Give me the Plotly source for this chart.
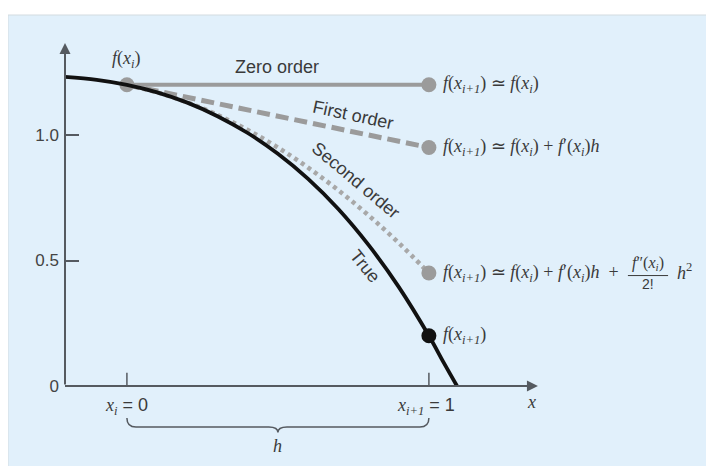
import plotly.graph_objects as go

# true function
x_true = [-0.205, -0.1, 0.0, 0.1, 0.2, 0.3, 0.4, 0.5, 0.6, 0.7, 0.8, 0.9, 1.0, 1.05, 1.093]
y_true = [1.232, 1.220, 1.200, 1.170, 1.129, 1.075, 1.008, 0.925, 0.825, 0.705, 0.562, 0.395, 0.200, 0.091, 0.0]

# zero, first, second order predictions
x_zero = [0.0, 1.0]
y_zero = [1.2, 1.2]
x_first = [0.0, 1.0]
y_first = [1.2, 0.95]
x_second = [0.0, 0.1, 0.2, 0.3, 0.4, 0.5, 0.6, 0.7, 0.8, 0.9, 1.0]
y_second = [1.2, 1.17, 1.13, 1.08, 1.02, 0.95, 0.87, 0.78, 0.68, 0.57, 0.45]

y_ticks = [0, 0.5, 1.0]
y_ticktext = ["0", "0.5", "1.0"]

GRAY = "#9b9b9b"
AXIS = "#555a60"
TXT = "#3a3a3a"
SERIF = "Liberation Serif"
SANS = "Liberation Sans"

X0, X1 = -0.205, 1.8977
Y0, Y1 = -0.2948, 1.3785

fig = go.Figure()

fig.add_trace(go.Scatter(x=x_zero, y=y_zero, mode="lines",
                         line=dict(color=GRAY, width=4)))
fig.add_trace(go.Scatter(x=x_first, y=y_first, mode="lines",
                         line=dict(color=GRAY, width=5, dash="13px,6px")))
fig.add_trace(go.Scatter(x=x_second, y=y_second, mode="lines",
                         line=dict(color="#a8a8a8", width=4.5, dash="4px,4px", shape="spline")))
# gray end dots
fig.add_trace(go.Scatter(x=[x_zero[0], x_zero[-1], x_first[-1], x_second[-1]],
                         y=[y_zero[0], y_zero[-1], y_first[-1], y_second[-1]],
                         mode="markers", marker=dict(color=GRAY, size=15)))
fig.add_trace(go.Scatter(x=x_true, y=y_true, mode="lines",
                         line=dict(color="#111111", width=3.8, shape="spline")))
fig.add_trace(go.Scatter(x=[x_true[12]], y=[y_true[12]], mode="markers",
                         marker=dict(color="#111111", size=15)))

# light blue panel
fig.add_shape(type="rect", xref="paper", yref="paper",
              x0=-0.0898, x1=1.03, y0=-0.03, y1=1.0595,
              fillcolor="#e1f0fb", line=dict(color="#d3dbe0", width=1), layer="below")

# x ticks and brace
for xv in [0, 1]:
    fig.add_shape(type="line", x0=xv, x1=xv, y0=0, y1=0.053,
                  line=dict(color=AXIS, width=1.5))
fig.add_shape(type="path",
              path="M 0,-0.127 Q 0,-0.163 0.03,-0.163 L 0.47,-0.163 Q 0.5,-0.163 0.5,-0.185 "
                   "Q 0.5,-0.163 0.53,-0.163 L 0.97,-0.163 Q 1,-0.163 1,-0.127",
              line=dict(color=AXIS, width=1.5))

# axes with arrows
fig.add_annotation(x=X0, y=1.367, ax=X0, ay=0, axref="x", ayref="y", text="",
                   showarrow=True, arrowhead=2, arrowsize=1.1, arrowwidth=2, arrowcolor=AXIS)
fig.add_annotation(x=1.361, y=0, ax=X0, ay=0, axref="x", ayref="y", text="",
                   showarrow=True, arrowhead=2, arrowsize=1.1, arrowwidth=2, arrowcolor=AXIS)


def ital(s, size=18, **kw):
    fig.add_annotation(text=s, showarrow=False, font=dict(family=SERIF, size=size, color=TXT), **kw)


def sans(s, size=18, **kw):
    fig.add_annotation(text=s, showarrow=False, font=dict(family=SANS, size=size, color=TXT), **kw)


ital("<i>f</i>(<i>x</i>)", x=-0.2745, y=1.339)
ital("<i>f</i>(<i>x<sub>i</sub></i>)", x=0.0, y=1.300)
sans("Zero order", x=0.497, y=1.272)
sans("First order", x=0.749, y=1.078, textangle=12)
sans("Second order", x=0.757, y=0.821, textangle=40)
sans("True", x=0.788, y=0.478, textangle=51)

lx = 1.04
ital("<i>f</i>(<i>x<sub>i+1</sub></i>) ≃ <i>f</i>(<i>x<sub>i</sub></i>)",
     x=lx, y=1.2, xanchor="left")
ital("<i>f</i>(<i>x<sub>i+1</sub></i>) ≃ <i>f</i>(<i>x<sub>i</sub></i>) + <i>f</i>′(<i>x<sub>i</sub></i>)<i>h</i>",
     x=lx, y=0.95, xanchor="left")
ital("<i>f</i>(<i>x<sub>i+1</sub></i>) ≃ <i>f</i>(<i>x<sub>i</sub></i>) + <i>f</i>′(<i>x<sub>i</sub></i>)<i>h</i>  +",
     x=lx, y=0.45, xanchor="left")
ital("<i>f</i>″(<i>x<sub>i</sub></i>)", size=16, x=1.725, y=0.49)
fig.add_shape(type="line", x0=1.659, x1=1.792, y0=0.44, y1=0.44,
              line=dict(color=TXT, width=1))
sans("2!", size=14, x=1.725, y=0.405)
ital("<i>h</i><sup>2</sup>", x=1.815, y=0.455, xanchor="left")
ital("<i>f</i>(<i>x<sub>i+1</sub></i>)", x=lx, y=0.2, xanchor="left")

ital("<i>x<sub>i</sub></i><span style='font-family:Liberation Sans'> = 0</span>", x=0.0, y=-0.08)
ital("<i>x<sub>i+1</sub></i><span style='font-family:Liberation Sans'> = 1</span>", x=0.99, y=-0.08)
ital("<i>x</i>", x=1.341, y=-0.064)
ital("<i>h</i>", x=0.5, y=-0.24)

fig.update_xaxes(range=[X0, X1], visible=False, showgrid=False, zeroline=False)
fig.update_yaxes(range=[Y0, Y1], showgrid=False, zeroline=False, showline=False,
                 tickvals=y_ticks, ticktext=y_ticktext, ticks="inside", ticklen=14,
                 tickwidth=1.5, tickcolor=AXIS, ticklabelstandoff=5,
                 tickfont=dict(family=SANS, size=17, color="#444444"))
# page has an 8px body margin, so the figure is shifted up/left to compensate
fig.update_layout(
    width=706,
    height=458,
    showlegend=False,
    paper_bgcolor="white",
    plot_bgcolor="rgba(0,0,0,0)",
    margin=dict(l=57, r=14, t=32, b=6),
)

fig.write_html("out.html")
